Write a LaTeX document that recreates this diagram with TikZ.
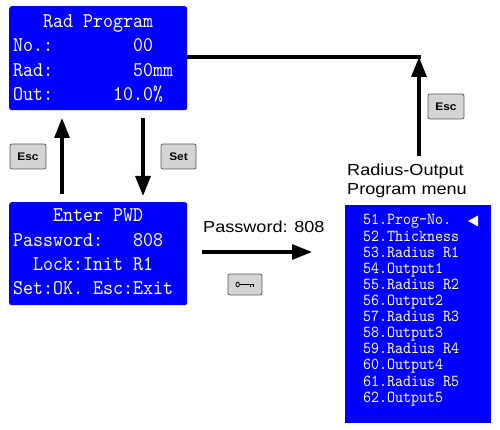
\documentclass[tikz,border=0pt]{standalone}
\usepackage{fontspec}
\usetikzlibrary{arrows.meta}
\newfontfamily\lcdfont{lmmono10-regular}[Extension=.otf,FakeStretch=0.907]
\newfontfamily\labfont[FakeStretch=1.13]{Liberation Sans}
\newfontfamily\keyfont[FakeStretch=1.08]{Liberation Sans}
\definecolor{lcdblue}{RGB}{0,0,255}
\definecolor{keygray}{RGB}{212,212,212}
\definecolor{keyedge}{RGB}{90,90,90}
\tikzset{
  lcd/.style={fill=lcdblue,draw=none,rounded corners=2.5pt},
  menubox/.style={fill=lcdblue,draw=none},
  lcdtext/.style={anchor=base west,inner sep=0pt,text=white,font=\lcdfont\fontsize{21}{24}\selectfont},
  menutext/.style={anchor=base west,inner sep=0pt,text=white,font=\lcdfont\fontsize{16.8}{20}\selectfont},
  lab/.style={anchor=base west,inner sep=0pt,font=\labfont\fontsize{16}{19}\selectfont},
  keybtn/.style={fill=keygray,draw=keyedge,line width=0.8pt,rounded corners=2pt,minimum width=#1,minimum height=25pt,inner sep=0pt,font=\keyfont\bfseries\fontsize{11}{12}\selectfont},
  flow/.style={line width=3.2pt,-{Triangle[length=20pt,width=15pt]}},
  plain/.style={line width=3.2pt}
}
\begin{document}
\begin{tikzpicture}[x=1pt,y=-1pt]
\useasboundingbox (0,0) rectangle (500,430);
% boxes
\node[lcd,minimum width=178pt,minimum height=104pt,anchor=north west,inner sep=0pt] (rad) at (9,6) {};
\node[lcd,minimum width=178pt,minimum height=103pt,anchor=north west,inner sep=0pt] (pwd) at (9,202) {};
\node[menubox,minimum width=146pt,minimum height=218pt,anchor=north west,inner sep=0pt] (menu) at (345,205) {};
% Rad program text
\node[lcdtext] (r1) at (13,28) {\ \ \ Rad Program};
\node[lcdtext] (r2) at (13,52) {No.:\ \ \ \ \ \ \ \ 00};
\node[lcdtext] (r3) at (13,77) {Rad:\ \ \ \ \ \ \ \ 50mm};
\node[lcdtext] (r4) at (13,101) {Out:\ \ \ \ \ \ 10.0\%};
% password text
\node[lcdtext] (p1) at (13,222) {\ \ \ \ Enter PWD};
\node[lcdtext] (p2) at (13,246) {Password:\ \ \ 808};
\node[lcdtext] (p3) at (13,270) {\ \ Lock:Init R1};
\node[lcdtext] (p4) at (13,294) {Set:OK.\ Esc:Exit};
% menu text
\foreach \t [count=\i from 0] in {51.Prog-No.,52.Thickness,53.Radius R1,54.Output1,55.Radius R2,56.Output2,57.Radius R3,58.Output3,59.Radius R4,60.Output4,61.Radius R5,62.Output5}
  \node[menutext] (m\i) at (363,225+16.1*\i) {\t};
\fill[white] (468,221) -- (478,215.5) -- (478,226.5) -- cycle;
% labels
\node[lab] (l1) at (347,176) {Radius-Output};
\node[lab] (l2) at (347,195) {Program menu};
\node[lab] (l3) at (203,233) {Password: 808};
% arrows
\coordinate (upA) at (62,194);
\coordinate (upB) at (62,118);
\coordinate (dnA) at (143,118);
\coordinate (dnB) at (143,196);
\draw[flow] (upA) -- (upB);
\draw[flow] (dnA) -- (dnB);
\coordinate (pwA) at (202,252);
\coordinate (pwB) at (312,252);
\draw[flow] (pwA) -- (pwB);
\coordinate (cr) at (419,57);
\coordinate (vb) at (419,156);
\draw[plain] (rad.east |- cr) -- ([xshift=1.6pt]cr);
\draw[flow] (vb) -- (cr);
% keys
\node[keybtn=36pt] (esc1) at (28,156.5) {Esc};
\node[keybtn=35pt] (set) at (178.5,156.5) {Set};
\node[keybtn=36pt] (esc2) at (446,106.5) {Esc};
\node[keybtn=34pt,minimum height=21pt] (keyk) at (245,284.5) {};
\draw[line width=0.8pt] (237.7,284.5) ellipse (1.7pt and 2.4pt);
\draw[line width=0.8pt] (239.4,284.5) -- (254,284.5) (250,284.5) -- (250,287) (253.5,284.5) -- (253.5,287);
\end{tikzpicture}
\end{document}
